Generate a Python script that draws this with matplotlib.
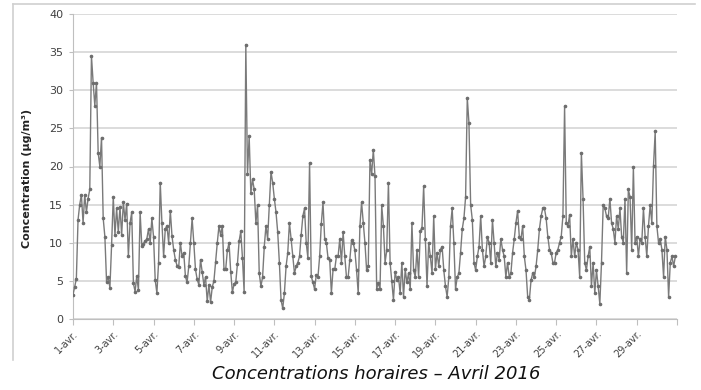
import matplotlib
matplotlib.use("Agg")
import matplotlib.pyplot as plt
import numpy as np
from matplotlib.lines import Line2D

# concentrations read every 2 hours (12 values per day), ug/m3
apr01_05 = [3.2, 4.2, 5.3, 13, 15, 16.3, 12.6, 16.3, 14, 15.8, 17, 34.5,
            31, 28, 31, 21.8, 20, 23.8, 13.2, 10.8, 4.9, 5.5, 4.1, 9.7,
            16, 11, 14.5, 11.4, 14.7, 11, 15.3, 13, 15.1, 8.2, 12.6, 14,
            4.7, 3.6, 5.6, 3.8, 14, 9.6, 9.9, 10.2, 10.5, 11.8, 10, 13.2,
            10.8, 5.1, 3.4, 7.4, 17.9, 12.6, 8.2, 11.8, 12.2, 10, 14.2, 10.9]
apr06_10 = [9.1, 7.8, 7, 6.8, 10, 8.2, 8.7, 5.6, 4.8, 6.9, 10, 13.2,
            10, 6.5, 5.2, 4.5, 7.8, 6.2, 4.5, 5.5, 2.3, 4.5, 2.2, 4.2,
            5, 7.5, 10, 12.2, 11, 12.2, 6.5, 6.5, 9, 10, 6.2, 3.5,
            4.6, 4.8, 7.2, 10.2, 11.5, 8, 3.5, 36, 19, 24, 16.5, 18.3,
            17, 12.6, 14.9, 6, 4.3, 5.5, 9.5, 12.2, 10.5, 14.9, 19.3, 17.9]
apr11_15 = [15.8, 14, 11.4, 7.4, 2.5, 1.4, 3.4, 6.9, 8.7, 12.6, 10.5, 8.2,
            6, 6.9, 7.4, 8.2, 11, 13.5, 14.5, 10, 8, 20.5, 5.6, 4.8,
            3.9, 5.8, 5.5, 8.2, 12.5, 15.3, 10.5, 10, 8, 7.8, 3.4, 6.5,
            6.5, 8.2, 8.2, 10.5, 7.4, 11.4, 8.2, 5.5, 5.5, 7.8, 10.3, 10,
            9, 6.4, 3.4, 12.2, 15.3, 12.6, 10, 6.4, 7, 20.9, 19, 22.2]
apr16_20 = [18.7, 4, 4.7, 3.9, 14.9, 12.2, 7.4, 9, 17.9, 7.4, 5, 2.5,
            6.2, 5.1, 5.5, 3.4, 7.4, 2.9, 6.5, 4.8, 6, 3.9, 12.6, 6.4,
            5.5, 9.1, 5.5, 11.5, 12, 17.4, 10.5, 4.3, 10, 8.2, 6, 13.5,
            6.5, 8.7, 6.9, 9.1, 9.5, 6.4, 4.3, 2.9, 5.5, 12.2, 14.5, 10,
            3.9, 5.5, 6, 8.7, 11.8, 13.2, 16, 29, 25.7, 15, 13, 7.4]
apr21_25 = [6.4, 8.2, 9.5, 13.5, 9.1, 6.9, 8.2, 10.8, 10, 7.4, 13, 10,
            6.9, 8.7, 7.8, 10.5, 9.1, 8.2, 5.5, 7.4, 5.5, 6, 8.7, 10.5,
            12.6, 14.2, 10.8, 10.5, 12.2, 8.2, 6.4, 2.9, 2.5, 5.1, 6, 5.5,
            6.9, 9.1, 11.8, 13.5, 14.5, 14.5, 13.2, 10.8, 9.1, 8.7, 7.4, 7.4,
            8.7, 9.1, 10, 10.8, 13.5, 27.9, 12.6, 12.2, 13.7, 8.2, 10.5, 8.2]
apr26_30 = [10, 9.1, 5.5, 21.8, 15.8, 7.4, 6.4, 8.2, 9.5, 4.3, 7.4, 3.4,
            6.4, 4.3, 2, 7.4, 14.9, 14.5, 13.5, 13.2, 15.8, 12.6, 11.8, 10,
            13.5, 11.8, 14.5, 10.8, 10, 15.8, 6, 17, 16, 9.1, 19.9, 10,
            10.8, 8.2, 10.5, 10, 14.5, 10.8, 8.2, 12.2, 14.9, 12.6, 20.1, 24.6,
            12.2, 10, 10.5, 9.1, 5.5, 10.8, 9.1, 2.9, 7.4, 8.2, 6.9, 8.2]

tick_labels = ['1-avr.', '3-avr.', '5-avr.', '7-avr.', '9-avr.', '11-avr.', '13-avr.',
               '15-avr.', '17-avr.', '19-avr.', '21-avr.', '23-avr.', '25-avr.',
               '27-avr.', '29-avr.', '']

conc = np.array(apr01_05 + apr06_10 + apr11_15 + apr16_20 + apr21_25 + apr26_30)
hours = np.arange(len(conc)) * 2

fig = plt.figure(figsize=(7.01, 3.9), dpi=100)
ax = fig.add_axes([73/701, 1 - 319/390, (677-73)/701, (319-14)/390])

ax.plot(hours, conc, color='#7a7a7a', lw=1.0, marker='o', ms=1.6,
        mfc='#6e6e6e', mec='#6e6e6e', zorder=3)

ax.set_xlim(0, 720)
ax.set_ylim(0, 40)
ax.set_yticks(np.arange(0, 41, 5))
ax.set_xticks(np.arange(0, 721, 48))
ax.set_xticklabels(tick_labels, rotation=45, ha='right', va='top',
                   rotation_mode='anchor', fontsize=7, color='#404040')
ax.tick_params(axis='y', labelsize=8, colors='#595959', length=3, width=0.8,
               color='#bfbfbf', pad=4)
ax.tick_params(axis='x', length=4, width=0.8, color='#bfbfbf', pad=3)
for lab in ax.get_yticklabels():
    lab.set_color('#404040')

ax.grid(axis='y', color='#d9d9d9', lw=1.3, zorder=0)
ax.set_axisbelow(True)
for s in ['top', 'right']:
    ax.spines[s].set_visible(False)
ax.spines['left'].set_color('#bfbfbf')
ax.spines['bottom'].set_color('#bfbfbf')
ax.spines['left'].set_linewidth(0.8)
ax.spines['bottom'].set_linewidth(0.8)

fig.text(27/701, 1 - 178/390, 'Concentration (µg/m³)', rotation=90,
         fontsize=8, fontweight='bold', color='#222222', ha='center', va='center')

# chart frame (left and top edges)
fig.add_artist(Line2D([13/701, 13/701], [1 - 360/390, 1 - 4/390],
                      color='#d0d0d0', lw=1.2))
fig.add_artist(Line2D([13/701, 695/701], [1 - 4/390, 1 - 4/390],
                      color='#d0d0d0', lw=1.2))

fig.text(376/701, 1 - 374/390, 'Concentrations horaires \u2013 Avril 2016',
         fontsize=13, style='italic', ha='center', va='center', color='#111111',
         family=['Liberation Sans Narrow', 'DejaVu Sans'])

fig.savefig('out.png', dpi=100)
